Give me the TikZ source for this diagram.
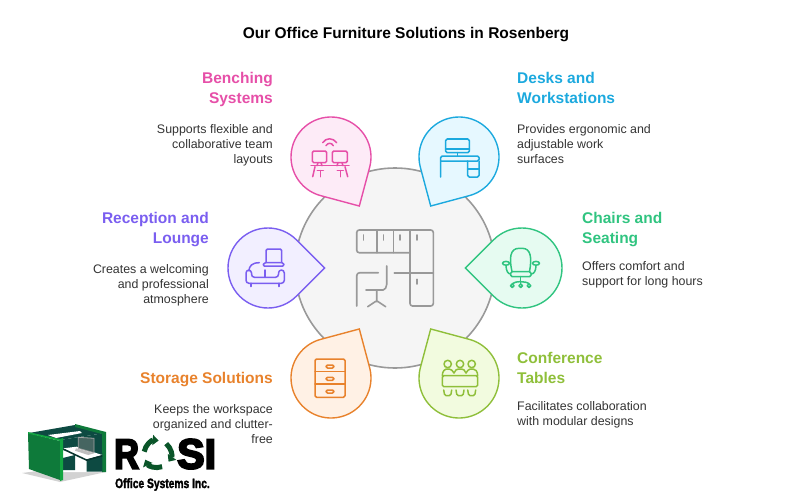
\documentclass[tikz,border=0pt]{standalone}
\usepackage{fontspec}
\usetikzlibrary{arrows.meta}
\setmainfont{Liberation Sans}
\newfontfamily\logofont[FakeBold=5]{Liberation Sans Bold}
\newfontfamily\tagfont[FakeBold=2]{Liberation Sans Bold}

\definecolor{pinkln}{HTML}{E64FA8}
\definecolor{pinkfl}{HTML}{FDEBF7}
\definecolor{blueln}{HTML}{1CA9DE}
\definecolor{bluefl}{HTML}{E6F8FF}
\definecolor{violetln}{HTML}{7A5EF0}
\definecolor{violetfl}{HTML}{F2EFFF}
\definecolor{mintln}{HTML}{30C480}
\definecolor{mintfl}{HTML}{E6FBF1}
\definecolor{amberln}{HTML}{E8822C}
\definecolor{amberfl}{HTML}{FFF1E5}
\definecolor{limeln}{HTML}{8FBF3A}
\definecolor{limefl}{HTML}{F2FBDF}
\definecolor{hubln}{HTML}{999999}
\definecolor{hubfl}{HTML}{F5F5F5}
\definecolor{bodytxt}{HTML}{333333}
\definecolor{rosigreen}{HTML}{0E7A3A}
\definecolor{rosibright}{HTML}{12A540}
\definecolor{rositeal}{HTML}{0D4A42}

\tikzset{
	headleft/.style={anchor=north west,align=left,inner sep=0pt,font=\bfseries\fontsize{15.5}{20}\selectfont},
	headright/.style={anchor=north east,align=right,inner sep=0pt,font=\bfseries\fontsize{15.5}{20}\selectfont},
	bodyleft/.style={anchor=north west,align=left,inner sep=0pt,text=bodytxt,font=\fontsize{12.4}{15}\selectfont},
	bodyright/.style={anchor=north east,align=right,inner sep=0pt,text=bodytxt,font=\fontsize{12.4}{15}\selectfont},
	icon/.style={line width=1.5pt,line cap=round,line join=round,rounded corners=1.5pt},
}

\begin{document}
\begin{tikzpicture}[x=1pt,y=-1pt]
	\useasboundingbox (0,0) rectangle (800,500);
	\node[font=\bfseries\fontsize{15.5}{18}\selectfont] (title) at (406,34.5) {Our Office Furniture Solutions in Rosenberg};

	% Hub circle
	\draw[hubln,fill=hubfl,line width=1.6pt] (395,268) circle[radius=100];

	% Pins
	\foreach \name/\cx/\cy/\ang/\col in {bench/331/157/60/pink, desks/459/157/120/blue, lounge/268/268/0/violet, chairs/522/268/180/mint, storage/331/378/-60/amber, tables/459/378/-120/lime} {
		\coordinate (\name) at (\cx,\cy);
		\draw[draw=\col ln,fill=\col fl,line width=1.4pt,line join=miter] ([shift={(\ang:56.6)}]\name) -- ([shift={(\ang+45:40)}]\name) arc[start angle=\ang+45,delta angle=270,radius=40] -- cycle;
	}

	% Hub icon
	\begin{scope}[icon,hubln,line width=1.6pt]
		\draw[rounded corners=2.5pt] (410,252.7) -- (356.7,252.7) -- (356.7,230) -- (433.3,230) -- (433.3,306) -- (410,306) -- (410,252.7);
		\draw (376.7,230) -- (376.7,252.7) (393.3,230) -- (393.3,252.7) (410,230) -- (410,252.7);
		\draw (394.3,272.7) -- (433.3,272.7);
		\foreach \x in {363.3,383.3,400,416.7}
			\draw (\x,235) -- (\x,240);
		\draw (416.7,279.3) -- (416.7,284);
		\draw[rounded corners=3pt] (356.7,306) -- (356.7,272.7) -- (378.3,272.7);
		\draw (386.7,266) -- (386.7,283) .. controls (386.7,287) and (385,290) .. (381.7,290) -- (366,290);
		\draw (376.7,290) -- (376.7,300.7) (367.7,306.7) -- (376.7,300.7) -- (385.7,306.7);
	\end{scope}

	% Benching icon
	\begin{scope}[icon,pinkln]
		\draw (312.3,151) rectangle (326.7,162.7);
		\draw (332.3,151) rectangle (347.3,162.7);
		\draw (311,165.7) -- (349,165.7);
		\draw (318,162.7) -- (317,165.7) (321,162.7) -- (322,165.7);
		\draw (338,162.7) -- (337,165.7) (342,162.7) -- (343,165.7);
		\draw (315,166.7) -- (312.7,176.7) (345,166.7) -- (347.7,176.7);
		\draw (317.3,170.7) -- (323.3,170.7) (320.3,170.7) -- (320.3,176.7);
		\draw (337.3,170.7) -- (343.3,170.7) (340.3,170.7) -- (340.3,176.7);
		\draw (322.7,142.7) .. controls (326,137.5) and (333,137.5) .. (336.7,142.7);
		\draw (326,145.7) .. controls (328,142.5) and (331.5,142.5) .. (333.3,145.7);
	\end{scope}

	% Desk icon
	\begin{scope}[icon,blueln]
		\draw (445.7,139) rectangle (469.3,152.7);
		\draw (445.7,149) -- (469.3,149);
		\draw (457.7,152.7) -- (457.7,156);
		\draw (440.7,177) -- (440.7,156) -- (479,156) -- (479,161) -- (440.7,161);
		\draw (467.7,161) -- (467.7,177) -- (479,177) -- (479,161);
		\draw (467.7,169) -- (479,169);
	\end{scope}

	% Lounge icon
	\begin{scope}[icon,violetln]
		\draw (266,262.7) -- (266,249) -- (281.7,249) -- (281.7,262.7);
		\draw (264,262.7) -- (283.5,262.7) -- (284.3,266) -- (262.7,266) -- cycle;
		\draw (259.3,262.7) .. controls (252,262.7) and (249,266) .. (249,271);
		\draw[rounded corners=3pt] (251.5,270) -- (246,270) -- (246,283.3) -- (284.3,283.3) -- (284.3,270) -- (278.5,270) -- (278.5,277.3) -- (251.5,277.3) -- cycle;
		\draw (265,270) -- (265,277.3);
		\draw (251,283.3) -- (251,286.5) (279,283.3) -- (279,286.5);
	\end{scope}

	% Chair icon
	\begin{scope}[icon,mintln]
		\draw (512,271.7) .. controls (509,258) and (510,248.3) .. (520.7,248.3) .. controls (531,248.3) and (532,258) .. (529.5,271.7);
		\draw (510.7,271.7) rectangle (531,276.7);
		\draw (506,263.3) ellipse[x radius=3.5,y radius=1.9];
		\draw (536,263.3) ellipse[x radius=3.5,y radius=1.9];
		\draw (506,265.2) .. controls (506,271) and (508,274) .. (510.7,274);
		\draw (536,265.2) .. controls (536,271) and (534,274) .. (531,274);
		\draw (520.7,276.7) -- (520.7,283.7);
		\draw (512.3,283.7) .. controls (515,281) and (526,281) .. (529,283.7);
		\foreach \x in {512.3,520.7,529}
			\draw (\x,285.7) circle[radius=1.8];
	\end{scope}

	% Storage icon
	\begin{scope}[icon,amberln]
		\draw (315,359) rectangle (345,397.3);
		\draw (315,371.7) -- (345,371.7) (315,384) -- (345,384);
		\foreach \y in {365,377.3,390}
			\draw (326,\y) rectangle (334,\y+3);
	\end{scope}

	% Table icon
	\begin{scope}[icon,limeln]
		\foreach \x in {447.7,460,471.7} {
			\draw (\x,364) circle[radius=3.7];
			\draw (\x-4,390) -- (\x-3,395.7) -- (\x+3,395.7) -- (\x+4,390);
		}
		\draw (442.3,375.7) rectangle (477.7,386.7);
		\draw (442.3,375.7) .. controls (442.3,371) and (445,369) .. (447.7,369) .. controls (451,369) and (453,371) .. (454,373);
		\draw (454,373) .. controls (455,370) and (457,369) .. (460,369) .. controls (463,369) and (465,370) .. (466,373);
		\draw (466,373) .. controls (467,371) and (469,369) .. (471.7,369) .. controls (475,369) and (477.7,371) .. (477.7,375.7);
	\end{scope}

	% Labels
	\node[headright,text=pinkln] (benchhead) at (273,72) {Benching\\Systems};
	\node[bodyright] (benchbody) at (273,124) {Supports flexible and\\collaborative team\\layouts};
	\node[headleft,text=blueln] (deskshead) at (517,72) {Desks and\\Workstations};
	\node[bodyleft] (desksbody) at (517,124) {Provides ergonomic and\\adjustable work\\surfaces};
	\node[headright,text=violetln] (loungehead) at (209,212) {Reception and\\Lounge};
	\node[bodyright] (loungebody) at (209,264) {Creates a welcoming\\and professional\\atmosphere};
	\node[headleft,text=mintln] (chairshead) at (582,212) {Chairs and\\Seating};
	\node[bodyleft] (chairsbody) at (582,261) {Offers comfort and\\support for long hours};
	\node[headleft,text=limeln] (tableshead) at (517,352) {Conference\\Tables};
	\node[bodyleft] (tablesbody) at (517,401) {Facilitates collaboration\\with modular designs};
	\node[headright,text=amberln] (storagehead) at (273,372) {Storage Solutions};
	\node[bodyright] (storagebody) at (273,404) {Keeps the workspace\\organized and clutter-\\free};

	% Logo cubicle
	\fill[gray!35] (22,473) -- (60,482) -- (106,472) -- (60,468) -- cycle;
	\fill[rositeal] (29,433) -- (75,425) -- (105,433) -- (60,440) -- cycle;
	\fill[rositeal] (60,440) -- (105,433) -- (105,456) -- (60,450) -- cycle;
	\fill[white] (60,450) -- (102,455) -- (102,472) -- (60,472) -- cycle;
	\fill[rosigreen] (75,424) -- (106,432) -- (106,472) -- (102,472) -- (102,434) -- (75,427) -- cycle;
	\fill[white] (48,435) -- (80,431) -- (82,433) -- (56,438) -- cycle;
	\fill[rositeal] (62.7,458) -- (75,455) -- (75,470) -- (62.7,470) -- cycle;
	\fill[rositeal] (86.7,459.3) -- (102.3,453) -- (102.3,471.7) -- (86.7,471.7) -- cycle;
	\fill[white] (63.3,448.3) -- (76.7,446.7) -- (102.3,455) -- (86.7,459.3) -- cycle;
	\fill[rositeal!70!black] (63.3,448.3) -- (86.7,459.3) -- (102.3,455) -- (102.3,456.5) -- (86.7,461) -- (63.3,450) -- cycle;
	\draw[gray!70,fill=rositeal!50!gray,line width=.8pt] (78.3,437.3) -- (94,438.3) -- (94,452.7) -- (78.3,448.3) -- cycle;
	\fill[gray!50] (76,448.3) -- (94,453.3) -- (88.3,455) -- (75,450.7) -- cycle;
	\fill[rosigreen] (28,433) -- (60,441) -- (60,480) -- (29,469) -- cycle;
	\fill[rosibright] (28,432) -- (60,439) -- (63,438) -- (63,480) -- (60,481) -- (60,441) -- (28,433.5) -- cycle;

	% Logo wordmark
	\node[anchor=base west,inner sep=0pt,xscale=.82,font=\logofont\fontsize{42}{42}\selectfont] (rosir) at (114,468.5) {R};
	\node[anchor=base west,inner sep=0pt,xscale=.98,font=\logofont\fontsize{42}{42}\selectfont] (rosisi) at (177,468.5) {SI};
	\coordinate (rosio) at (157.5,454);
	\foreach \a in {190,310,70}
		\draw[rosigreen!70!black,line width=5pt,-{Triangle[length=6pt,width=10pt]}] ([shift={(\a:13.5)}]rosio) arc[start angle=\a,delta angle=85,radius=13.5];
	\node[anchor=base west,inner sep=0pt,xscale=.76,font=\tagfont\fontsize{13.5}{14}\selectfont] (rositag) at (115,488) {Office Systems Inc.};
\end{tikzpicture}
\end{document}
